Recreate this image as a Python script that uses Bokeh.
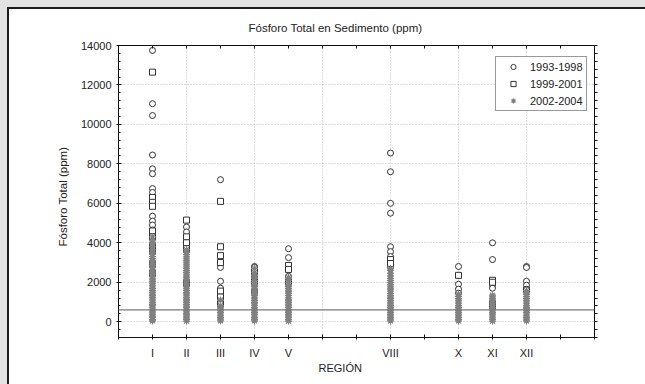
from bokeh.plotting import figure
from bokeh.models import FixedTicker, LinearAxis, Span, Title
from bokeh.embed import file_html
from bokeh.resources import INLINE

# ---------------- data ----------------
regions = ["I", "II", "III", "IV", "V", "VIII", "X", "XI", "XII"]
region_pos = [1, 2, 3, 4, 5, 8, 10, 11, 12]

# 1993-1998 (circles), one list per region
p1993_1998 = [
    [13750, 11050, 10450, 8450, 7750, 7500, 6750, 6550, 5350, 5100, 4900, 4650],
    [4800, 4550, 3600],
    [7200, 2750, 2050, 1700],
    [2800, 2750, 2300, 2150, 1600, 1450],
    [3700, 3250, 2300, 2100],
    [8550, 7600, 6000, 5500, 3800, 3550, 3300, 2750],
    [2800, 1900, 1650, 1450],
    [4000, 3150, 1850, 1700],
    [2800, 2750, 2050, 1850, 1650],
]
# 1999-2001 (squares)
p1999_2001 = [
    [12650, 6300, 6050, 5850, 4600, 4300, 3850, 3600, 2950, 2450],
    [5150, 4300, 4000, 3700, 1950],
    [6100, 3800, 3350, 3000, 1550, 1250, 900],
    [2550, 2000],
    [2850, 2650, 2000],
    [3150, 2950],
    [2350],
    [2100, 2000, 950, 800],
    [1600],
]
# 2002-2004 (asterisks)
p2002_2004 = [
    [40, 110, 200, 270, 360, 450, 530, 620, 700, 800, 870, 960, 1050, 1140, 1230,
     1320, 1400, 1500, 1580, 1680, 1760, 1850, 1950, 2030, 2120, 2210, 2300, 2400,
     2480, 2570, 2660, 2750, 2850, 2930, 3030, 3110, 3200, 3300, 3420, 3530, 3650,
     3800, 3950, 4100, 4300],
    [30, 120, 190, 280, 370, 440, 540, 610, 710, 790, 880, 970, 1060, 1130, 1220,
     1310, 1410, 1490, 1590, 1670, 1770, 1860, 1940, 2050, 2130, 2220, 2310, 2410,
     2500, 2590, 2690, 2780, 2880, 2980, 3080, 3180, 3290, 3400, 3520, 3650],
    [50, 130, 210, 300, 390, 470, 560, 650, 740, 820, 1100],
    [40, 120, 210, 290, 380, 460, 550, 640, 720, 810, 900, 980, 1070, 1160, 1240,
     1330, 1420, 1520, 1610, 1700, 1790, 1880, 1980, 2080, 2200, 2350, 2500, 2700],
    [30, 110, 200, 280, 370, 460, 540, 630, 720, 800, 890, 980, 1070, 1150, 1240,
     1330, 1420, 1510, 1600, 1690, 1780, 1880, 1980, 2100, 2250],
    [40, 130, 210, 300, 380, 470, 560, 640, 730, 820, 900, 990, 1080, 1170, 1250,
     1340, 1430, 1520, 1610, 1700, 1800, 1890, 1990, 2100, 2200, 2320, 2450, 2600, 2700],
    [40, 120, 210, 300, 380, 470, 560, 640, 730, 820, 910, 1000, 1090, 1180, 1280, 1400],
    [30, 120, 200, 290, 380, 460, 550, 640, 720, 810, 900, 990, 1080, 1170, 1260, 1350],
    [40, 130, 210, 300, 390, 470, 560, 650, 730, 820, 910, 1000, 1090, 1180, 1270,
     1370, 1470, 1580],
]

reference_level = 600
y_ticks = [0, 2000, 4000, 6000, 8000, 10000, 12000, 14000]
x_grid_ticks = [2, 4, 6, 8, 10, 12]
series_labels = ["1993-1998", "1999-2001", "2002-2004"]

FONT = "Liberation Sans"
INK = "#222222"


def flatten(series):
    xs, ys = [], []
    for pos, vals in zip(region_pos, series):
        for v in vals:
            xs.append(pos)
            ys.append(v)
    return xs, ys


panel_css = ("linear-gradient(#1c1c1c, #1c1c1c) 7px 7px / 100% 2px no-repeat, "
             "linear-gradient(#1c1c1c, #1c1c1c) 7px 7px / 2px 100% no-repeat, "
             "linear-gradient(#ffffff, #ffffff) 9px 9px / 100% 100% no-repeat, "
             "#e3e3e3")

p = figure(width=645, height=384, x_range=(0, 14), y_range=(-800, 14000),
           output_backend="svg", toolbar_location=None,
           min_border_left=118, min_border_right=51,
           min_border_top=45, min_border_bottom=47,
           background_fill_color="white", border_fill_color=None,
           styles={"background": panel_css})

p.outline_line_color = "#111111"
p.outline_line_width = 1

# title
p.title.text = "Fósforo Total en Sedimento (ppm)"
p.title.align = "left"
p.title.offset = 130
p.title.standoff = 23
p.title.text_font = FONT
p.title.text_font_size = "11.5px"
p.title.text_font_style = "normal"
p.title.text_color = INK

# grids
p.xgrid.ticker = FixedTicker(ticks=x_grid_ticks)
p.ygrid.ticker = FixedTicker(ticks=y_ticks)
for g in (p.xgrid, p.ygrid):
    g.grid_line_color = "#bdbdbd"
    g.grid_line_dash = "1 2"
    g.grid_line_width = 1

# axes
minor_y = [v for v in range(-800, 14001, 400) if v % 2000 != 0]
other_x = [i for i in range(0, 15) if i not in region_pos]
xax = p.xaxis[0]
xax.ticker = FixedTicker(ticks=region_pos, minor_ticks=other_x)
xax.major_label_overrides = {pos: name for name, pos in zip(regions, region_pos)}

yax = p.yaxis[0]
yax.ticker = FixedTicker(ticks=y_ticks, minor_ticks=minor_y)

for ax in (xax, yax):
    ax.axis_line_color = "#111111"
    ax.major_tick_line_color = "#111111"
    ax.minor_tick_line_color = "#111111"
    ax.major_tick_in = 3
    ax.major_tick_out = 2
    ax.major_label_text_font = FONT
    ax.major_label_text_font_size = "11px"
    ax.major_label_text_color = INK
xax.minor_tick_in = 3
xax.minor_tick_out = 2
yax.minor_tick_in = 2
yax.minor_tick_out = 0
xax.major_label_standoff = 7
yax.major_label_standoff = 5

top_ax = LinearAxis(ticker=FixedTicker(ticks=[], minor_ticks=list(range(0, 15))),
                    major_tick_in=0, major_tick_out=0, major_label_standoff=0,
                    minor_tick_in=3, minor_tick_out=0, axis_line_color="#111111",
                    minor_tick_line_color="#111111")
right_ax = LinearAxis(ticker=FixedTicker(ticks=[], minor_ticks=sorted(y_ticks + minor_y)),
                      major_tick_in=0, major_tick_out=0, major_label_standoff=0,
                      minor_tick_in=0, minor_tick_out=3, axis_line_color="#111111",
                      minor_tick_line_color="#111111")
p.add_layout(top_ax, "above")
p.add_layout(right_ax, "right")

# axis titles (placed as titles so they can be positioned like the original)
p.add_layout(Title(text="REGIÓN", align="left", offset=200, standoff=-4,
                   text_font=FONT, text_font_size="11px", text_font_style="normal",
                   text_color=INK), "below")
p.add_layout(Title(text="Fósforo Total (ppm)", align="left", offset=91, standoff=17,
                   text_font=FONT, text_font_size="11.5px", text_font_style="normal",
                   text_color=INK), "left")

# reference line
p.add_layout(Span(location=reference_level, dimension="width",
                  line_color="#7a7a7a", line_width=1.2))

# points
x3, y3 = flatten(p2002_2004)
x2, y2 = flatten(p1999_2001)
x1, y1 = flatten(p1993_1998)
p.scatter(x1, y1, marker="circle", size=6, line_color="#333333", line_width=1,
          fill_color="white", legend_label=series_labels[0])
p.scatter(x2, y2, marker="square", size=6, line_color="#333333", line_width=1,
          fill_color="white", legend_label=series_labels[1])
p.scatter(x3, y3, marker="asterisk", size=7, line_color="#808080", line_width=1.2,
          legend_label=series_labels[2])

leg = p.legend[0]
leg.location = (377, 226)
leg.padding = 3
leg.glyph_width = 28
leg.glyph_height = 13
leg.label_height = 13
leg.label_standoff = 3
leg.spacing = 4
leg.label_text_font = FONT
leg.label_text_font_size = "11px"
leg.label_text_color = INK
leg.border_line_color = "#333333"
leg.border_line_width = 1
leg.background_fill_color = "white"
leg.background_fill_alpha = 1

open("out.html", "w").write(file_html(p, INLINE))
